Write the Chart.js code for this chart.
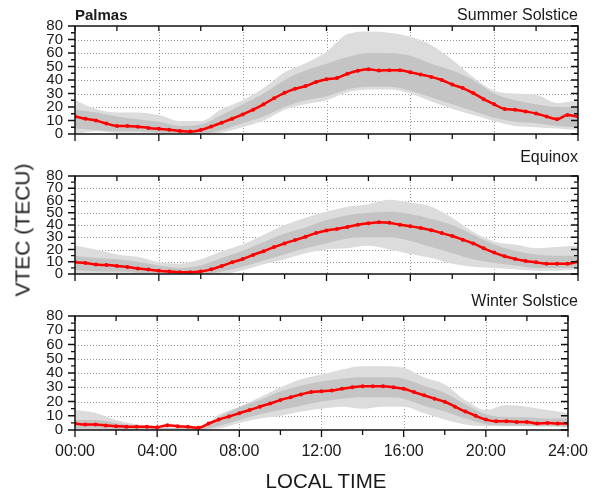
<!DOCTYPE html>
<html>
<head>
<meta charset="utf-8">
<script src="https://cdn.jsdelivr.net/npm/chart.js@4.4.1/dist/chart.umd.min.js"></script>
<style>
  body { margin: 0; background: #fff; }
  #wrap { position: relative; width: 600px; height: 492px; font-family: "Liberation Sans", Arial, sans-serif; color: #1a1a1a; }
  .box { position: absolute; left: 0; width: 600px; }
  .txt { position: absolute; line-height: 1; white-space: nowrap; transform: translateY(-50%); }
</style>
</head>
<body>
<div id="wrap">
  <div class="box" style="top:0;height:155px"><canvas id="c0"></canvas></div>
  <div class="box" style="top:155px;height:140px"><canvas id="c1"></canvas></div>
  <div class="box" style="top:295px;height:197px"><canvas id="c2"></canvas></div>
  <div class="txt" style="left:75px;top:14px;font-size:15px;font-weight:bold">Palmas</div>
  <div class="txt" id="t0" style="right:22px;top:15px;font-size:16px"></div>
  <div class="txt" id="t1" style="right:22px;top:157px;font-size:16px"></div>
  <div class="txt" id="t2" style="right:22px;top:301px;font-size:16px"></div>
  <div class="txt" style="left:326px;top:481px;font-size:20.5px;transform:translate(-50%,-50%)">LOCAL TIME</div>
  <div class="txt" style="left:22px;top:230px;font-size:21px;transform:translate(-50%,-50%) rotate(-90deg)">VTEC (TECU)</div>
</div>
<script>
// titles and axis labels
var panelTitles = ['Summer Solstice', 'Equinox', 'Winter Solstice'];
var xTickLabels = ['00:00', '04:00', '08:00', '12:00', '16:00', '20:00', '24:00'];

// hourly times for the spread of the grey points
var hours = [0, 1, 2, 3, 4, 5, 6, 7, 8, 9, 10, 11, 12, 13, 14, 15, 16, 17, 18, 19, 20, 21, 22, 23, 24];
// half-hourly times for the red mean curve
var meanTimes = [0, 0.5, 1, 1.5, 2, 2.5, 3, 3.5, 4, 4.5, 5, 5.5, 6, 6.5, 7, 7.5, 8, 8.5, 9, 9.5, 10, 10.5, 11, 11.5,
  12, 12.5, 13, 13.5, 14, 14.5, 15, 15.5, 16, 16.5, 17, 17.5, 18, 18.5, 19, 19.5, 20, 20.5, 21, 21.5, 22, 22.5, 23, 23.5, 24];

// Summer solstice
var summerMean = [13, 11.3, 10, 7.7, 6, 6, 5.4, 4.5, 3.8, 3.2, 2.3, 1.8, 3, 5.5, 8.4, 11.3, 14.5, 18, 22, 26.5, 30.5, 33.5, 35.5, 38.5,
  40.5, 41.5, 44.6, 46.8, 48, 47, 47.3, 47.3, 45.7, 44, 42.3, 40, 36.6, 34, 30.3, 25.8, 22, 18.5, 18, 16.7, 15.2, 12.9, 11, 14, 13];
var summerOuterHi = [25, 18.5, 16, 16, 14, 9.5, 9.5, 18.5, 25, 34, 45.7, 52.5, 61, 74, 76, 75, 72, 66, 55, 42, 32, 30, 29, 23, 25];
var summerOuterLo = [0, 2, 1, 1, 0.5, 0, 0, 1, 5, 10, 18, 22, 25, 31, 33, 33, 30, 24, 18.5, 14, 9.5, 6, 5, 4, 3];
var summerCoreHi = [18, 16, 13, 11, 9, 6, 7, 14, 22, 30, 40, 47, 52, 57, 60, 60, 58, 52, 47, 40, 30, 25, 22, 20, 20];
var summerCoreLo = [4, 3, 2, 2, 1, 0, 0, 3, 8, 13, 20, 25, 28, 33, 35, 35, 32, 27, 22, 17, 12, 9, 8, 6, 5];

// Equinox
var equinoxMean = [9.5, 9, 7.7, 7.3, 6.6, 5.7, 4.5, 3.6, 2.7, 2, 1.4, 1.4, 2, 3.8, 6.6, 9.5, 12.2, 15.6, 18.6, 22, 25, 27.7, 30.4, 33.4,
  35.5, 36.8, 38.4, 40.2, 41.4, 42.3, 41.8, 40.2, 39, 37.5, 35.7, 33.4, 31, 28, 25, 21, 17.5, 14.5, 12.3, 10.7, 9.5, 8.4, 8.4, 8.4, 10];
var equinoxOuterHi = [23, 20, 16, 14, 9.5, 8.4, 12, 18.6, 24, 32, 40, 46, 51, 55, 57, 60.7, 58.4, 55, 46, 34.5, 26.6, 24, 21, 22, 23];
var equinoxOuterLo = [0, 0, 0, 0, 0, 0, 0, 0, 3, 8, 12, 17, 20, 21, 23, 20, 16.4, 13, 8.4, 6, 5, 3.9, 2.7, 2.7, 3.9];
var equinoxCoreHi = [15, 13, 12, 10, 7, 5, 7, 13, 19, 26, 33, 38, 44, 48, 50, 51, 49, 45, 40, 32, 24, 19, 16, 15, 15];
var equinoxCoreLo = [3, 2, 2, 1, 0, 0, 0, 2, 6, 11, 16, 21, 25, 29, 30, 30, 27, 22, 17, 12, 9, 7, 5, 5, 5];

// Winter solstice
var winterMean = [4.5, 3.9, 3.9, 3.2, 2.7, 2.3, 2.3, 2.3, 2, 3.4, 2.7, 2.3, 1.6, 4.5, 7.3, 9.5, 11.8, 14, 16.4, 18.6, 21, 23, 25, 26.6,
  27.2, 27.7, 28.9, 30, 30.7, 30.7, 30.7, 30, 28.9, 26.6, 24.3, 22, 19.8, 16.4, 13, 10, 7.3, 6.1, 6.1, 5.7, 5.7, 4.5, 5, 4.5, 4.5];
var winterOuterHi = [14, 12, 7, 4, 2.7, 1.6, 1.6, 10.7, 16.4, 23, 30, 35.7, 39, 42.5, 44.8, 44.8, 43.6, 36.8, 32, 21, 14, 17.5, 16.4, 14, 12];
var winterOuterLo = [0, 0, 0, 0, 0, 0, 0, 1, 5, 8, 10, 13, 15, 16.4, 15, 16.4, 16.4, 11.8, 7.3, 3.9, 2.7, 2.7, 2.7, 2.3, 2.3];
var winterCoreHi = [7, 7, 5, 3, 2, 1.5, 1.5, 9, 16, 21, 27, 31, 34, 36, 37, 37, 36, 31, 26, 18, 11, 9, 9, 8, 8];
var winterCoreLo = [1, 1, 0, 0, 0, 0, 0, 3, 7, 11, 14, 17, 20, 22, 23, 23, 22, 17, 13, 8, 4, 3, 3, 3, 2];

var panels = [
  { mean: summerMean, oHi: summerOuterHi, oLo: summerOuterLo, cHi: summerCoreHi, cLo: summerCoreLo, top: 26, bottom: 11 },
  { mean: equinoxMean, oHi: equinoxOuterHi, oLo: equinoxOuterLo, cHi: equinoxCoreHi, cLo: equinoxCoreLo, top: 15, bottom: 8 },
  { mean: winterMean, oHi: winterOuterHi, oLo: winterOuterLo, cHi: winterCoreHi, cLo: winterCoreLo, top: 18, bottom: 62 }
];

function pts(xs, ys) {
  return xs.map(function (x, i) { return { x: x, y: ys[i] }; });
}

var font = { family: '"Liberation Sans", Arial, sans-serif', size: 15 };

// dotted grid under the data, frame and tick marks on top
var framePlugin = {
  id: 'frame',
  beforeDatasetsDraw: function (chart) {
    var ctx = chart.ctx, a = chart.chartArea, xs = chart.scales.x, ys = chart.scales.y;
    ctx.save();
    ctx.strokeStyle = '#9a9a9a';
    ctx.lineWidth = 1;
    ctx.setLineDash([1, 2]);
    ctx.beginPath();
    for (var v = 10; v < 80; v += 10) {
      var y = Math.round(ys.getPixelForValue(v)) + 0.5;
      ctx.moveTo(a.left, y); ctx.lineTo(a.right, y);
    }
    for (var t = 4; t < 24; t += 4) {
      var x = Math.round(xs.getPixelForValue(t)) + 0.5;
      ctx.moveTo(x, a.top); ctx.lineTo(x, a.bottom);
    }
    ctx.stroke();
    ctx.restore();
  },
  afterDatasetsDraw: function (chart) {
    var ctx = chart.ctx, a = chart.chartArea, xs = chart.scales.x, ys = chart.scales.y;
    ctx.save();
    ctx.strokeStyle = '#111';
    ctx.lineWidth = 1.5;
    ctx.strokeRect(a.left, a.top, a.right - a.left, a.bottom - a.top);
    ctx.lineWidth = 1.3;
    ctx.beginPath();
    for (var v = 0; v <= 80; v += 5) {
      var y = ys.getPixelForValue(v);
      var len = v % 10 === 0 ? 7 : 4;
      ctx.moveTo(a.left - len, y); ctx.lineTo(a.left, y);
      ctx.moveTo(a.right - len, y); ctx.lineTo(a.right, y);
    }
    for (var t = 0; t <= 24; t += 2) {
      var x = xs.getPixelForValue(t);
      var l2 = t % 4 === 0 ? 7 : 5;
      ctx.moveTo(x, a.bottom); ctx.lineTo(x, a.bottom + l2);
      ctx.moveTo(x, a.top); ctx.lineTo(x, a.top + 5);
    }
    ctx.stroke();
    ctx.restore();
  }
};

panels.forEach(function (p, i) {
  document.getElementById('t' + i).textContent = panelTitles[i];
  var band = { pointRadius: 0, borderWidth: 0, cubicInterpolationMode: 'monotone' };
  new Chart(document.getElementById('c' + i), {
    type: 'line',
    data: {
      datasets: [
        Object.assign({ data: pts(hours, p.oHi), fill: '+1', backgroundColor: '#dcdcdc', order: 3 }, band),
        Object.assign({ data: pts(hours, p.oLo), fill: false, order: 3 }, band),
        Object.assign({ data: pts(hours, p.cHi), fill: '+1', backgroundColor: '#c4c4c4', order: 2 }, band),
        Object.assign({ data: pts(hours, p.cLo), fill: false, order: 2 }, band),
        {
          data: pts(meanTimes, p.mean), fill: false, order: 0,
          borderColor: '#ff0000', borderWidth: 2.5,
          pointRadius: 2, pointBackgroundColor: '#ff0000', pointBorderWidth: 0,
          cubicInterpolationMode: 'monotone'
        }
      ]
    },
    options: {
      responsive: true,
      maintainAspectRatio: false,
      animation: false,
      events: [],
      layout: { padding: { left: 0, right: 22, top: p.top, bottom: 0 } },
      plugins: { legend: { display: false }, tooltip: { enabled: false } },
      scales: {
        x: {
          type: 'linear', min: 0, max: 24,
          grid: { display: false, drawTicks: false },
          border: { display: false },
          ticks: {
            display: i === 2, stepSize: 4, autoSkip: false, maxRotation: 0, padding: 12,
            color: '#1a1a1a', font: { family: font.family, size: 16 },
            callback: function (v) { return xTickLabels[v / 4]; }
          },
          afterFit: function (s) { s.height = p.bottom; }
        },
        y: {
          min: 0, max: 80,
          grid: { display: false, drawTicks: false },
          border: { display: false },
          ticks: { stepSize: 10, autoSkip: false, padding: 12, color: '#1a1a1a', font: font },
          afterFit: function (s) { s.width = 75; }
        }
      }
    },
    plugins: [framePlugin]
  });
});
</script>
</body>
</html>
